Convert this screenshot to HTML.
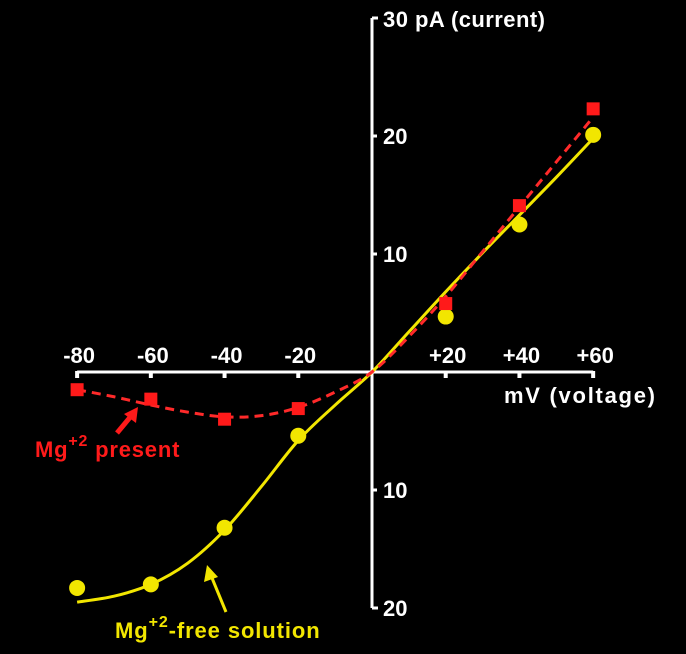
<!DOCTYPE html>
<html><head><meta charset="utf-8"><style>
body{margin:0;background:#000;}
svg{display:block;font-family:"Liberation Sans",Arial,sans-serif;font-weight:bold;}
</style></head><body>
<svg id="chart" width="686" height="654" viewBox="0 0 686 654">
<rect width="686" height="654" fill="#000"/>
<g id="axes"></g>
<g id="series"></g>
<g>
<text x="35" y="457" fill="#ff1a1a" font-size="22" letter-spacing="0.8">Mg<tspan dy="-11" font-size="16">+2</tspan><tspan dy="11"> present</tspan></text>
<line x1="117" y1="433" x2="132" y2="415" stroke="#ff1a1a" stroke-width="5"/>
<polygon points="138,407 124,414 136,423" fill="#ff1a1a"/>
</g>
<g>
<text x="115" y="638" fill="#f2e600" font-size="22" letter-spacing="0.9">Mg<tspan dy="-11" font-size="16">+2</tspan><tspan dy="11">-free solution</tspan></text>
<line x1="226" y1="612" x2="212" y2="578" stroke="#f2e600" stroke-width="3"/>
<polygon points="207,565 204,582 218,577" fill="#f2e600"/>
</g>
</svg>
<script>
const voltages=[-80,-60,-40,-20,0,20,40,60];
const mgPresent=[-1.5,-2.3,-4.0,-3.1,0,5.8,14.1,22.3];
const mgFree=[-18.3,-18.0,-13.2,-5.4,0,4.7,12.5,20.1];
const fitVoltages=[-80,-70,-60,-50,-40,-30,-20,-10,0,10,20,30,40,50,60];
const mgPresentFit=[-1.5,-2.1,-2.8,-3.4,-3.8,-3.7,-3.0,-1.7,0,3.0,6.4,10.2,14.0,17.8,21.6];
const mgFreeFit=[-19.5,-19.0,-18.0,-16.2,-13.4,-9.7,-5.8,-2.8,0,3.4,6.8,10.1,13.3,16.5,19.8];
const xTicks=[-80,-60,-40,-20,20,40,60];
const xTickLabels=["-80","-60","-40","-20","+20","+40","+60"];
const yTicks=[20,10,-10,-20];
const yTickLabels=["20","10","10","20"];

const NS="http://www.w3.org/2000/svg";
const X0=372,Y0=372,PXMV=3.686,PXPA=11.8;
const sx=v=>X0+v*PXMV;
const sy=v=>Y0-v*PXPA;
function mk(tag,attrs,parent){const e=document.createElementNS(NS,tag);for(const k in attrs)e.setAttribute(k,attrs[k]);parent.appendChild(e);return e;}
const axes=document.getElementById('axes');
const series=document.getElementById('series');

let e=mk('line',{x1:sx(-80),y1:Y0,x2:sx(60),y2:Y0,stroke:'#fff','stroke-width':3},axes);


e=mk('line',{x1:X0,y1:sy(30),x2:X0,y2:sy(-20),stroke:'#fff','stroke-width':3},axes);


e=mk('path',{d:`M${X0} ${sy(30)} h6 M${X0} ${sy(-20)} h6`,stroke:'#fff','stroke-width':3,fill:'none'},axes);


e=mk('text',{x:383,y:sy(30)+9,fill:'#fff','font-size':22,textLength:162,lengthAdjust:'spacing'},axes);e.textContent='30 pA (current)';


e=mk('text',{x:504,y:403,fill:'#fff','font-size':22,textLength:151,lengthAdjust:'spacing'},axes);e.textContent='mV (voltage)';


xTicks.forEach((v,i)=>{
  const t=mk('rect',{x:sx(v)-2,y:Y0-1,width:4,height:7,fill:'#fff'},axes);
  
  
  const l=mk('text',{x:sx(v)+2,y:Y0-9,fill:'#fff','font-size':22,'text-anchor':'middle'},axes);l.textContent=xTickLabels[i];
  
  
});
yTicks.forEach((v,i)=>{
  const t=mk('line',{x1:X0,y1:sy(v),x2:X0+5,y2:sy(v),stroke:'#fff','stroke-width':3},axes);
  
  
  const l=mk('text',{x:X0+11,y:sy(v)+8,fill:'#fff','font-size':22},axes);l.textContent=yTickLabels[i];
  
  
});
function smooth(xs,ys){
  const p=xs.map((x,i)=>[sx(x),sy(ys[i])]);
  let d=`M${p[0][0]} ${p[0][1]}`;
  for(let i=0;i<p.length-1;i++){
    const p0=p[Math.max(0,i-1)],p1=p[i],p2=p[i+1],p3=p[Math.min(p.length-1,i+2)];
    const c1=[p1[0]+(p2[0]-p0[0])/6,p1[1]+(p2[1]-p0[1])/6];
    const c2=[p2[0]-(p3[0]-p1[0])/6,p2[1]-(p3[1]-p1[1])/6];
    d+=` C${c1[0]} ${c1[1]} ${c2[0]} ${c2[1]} ${p2[0]} ${p2[1]}`;
  }
  return d;
}
e=mk('path',{d:smooth(fitVoltages,mgFreeFit),stroke:'#f2e600','stroke-width':3,fill:'none'},series);


e=mk('path',{d:smooth(fitVoltages,mgPresentFit),stroke:'#ff2a2a','stroke-width':3,fill:'none','stroke-dasharray':'9,6'},series);


voltages.forEach((v,i)=>{
  if(v===0)return;
  const c=mk('circle',{cx:sx(v),cy:sy(mgFree[i]),r:8,fill:'#f2e600'},series);
  
  
  const r=mk('rect',{x:sx(v)-6.5,y:sy(mgPresent[i])-6.5,width:13,height:13,fill:'#ff1a1a'},series);
  
  
});
</script>
</body></html>
